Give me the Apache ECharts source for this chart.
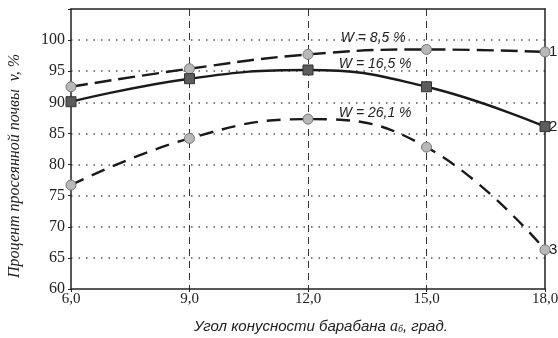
<!DOCTYPE html>
<html>
<head>
<meta charset="utf-8">
<script src="https://cdn.jsdelivr.net/npm/echarts@6/dist/echarts.min.js"></script>
<style>
html, body { margin: 0; padding: 0; background: #fff; }
#chart { width: 558px; height: 338px; }
</style>
</head>
<body>
<div id="chart"></div>
<script>
// угол конусности барабана, град.
const angles = [6, 9, 12, 15, 18];
// процент просеянной почвы при разной влажности
const w85 = [92.5, 95.4, 97.7, 98.5, 98.1];
const w165 = [90.1, 93.8, 95.2, 92.5, 86.1];
const w261 = [76.7, 84.2, 87.3, 82.8, 66.3];
const seriesNames = ['W = 8,5 %', 'W = 16,5 %', 'W = 26,1 %'];
const endNames = ['1', '2', '3'];
// где стоят подписи W (в единицах осей)
const nameSpots = [[13.65, 100.3], [13.7, 96.1], [13.7, 88.3]];

const lineColor = '#1a1a1a';

function pairs(vals) {
	return angles.map((a, i) => [a, vals[i]]);
}

function makeSeries(idx, vals, symbol, fill, dash) {
	return {
		name: seriesNames[idx],
		type: 'line',
		data: pairs(vals),
		smooth: 0.45,
		symbol: symbol,
		symbolSize: 10,
		showAllSymbol: true,
		lineStyle: { color: lineColor, width: 2.4, type: dash },
		itemStyle: { color: fill, borderColor: symbol === 'rect' ? '#333' : '#777', borderWidth: 1 },
		endLabel: {
			show: true,
			formatter: endNames[idx],
			distance: 4,
			color: '#222',
			fontFamily: 'Liberation Sans',
			fontSize: 15
		},
		markPoint: {
			symbol: 'circle',
			symbolSize: 0,
			silent: true,
			label: {
				show: true,
				position: 'inside',
				formatter: seriesNames[idx],
				color: '#222',
				fontFamily: 'Liberation Sans',
				fontStyle: 'italic',
				fontSize: 14
			},
			data: [{ coord: nameSpots[idx] }]
		},
		z: 3
	};
}

const chart = echarts.init(document.getElementById('chart'));
chart.setOption({
	animation: false,
	grid: { left: 71, right: 13, top: 9, bottom: 49, outerBoundsMode: 'none', containLabel: false },
	xAxis: [{
		type: 'value',
		min: 6,
		max: 18,
		interval: 3,
		axisLine: { show: true, lineStyle: { color: '#222', width: 1.5 } },
		axisTick: { show: true, length: 3, lineStyle: { color: '#222' } },
		axisLabel: {
			color: '#222',
			fontFamily: 'Liberation Serif',
			fontSize: 15,
			margin: 3,
			formatter: (v) => v.toFixed(1).replace('.', ',')
		},
		splitLine: {
			show: true,
			showMinLine: false,
			showMaxLine: false,
			lineStyle: { color: '#333', type: [7, 5], width: 1 }
		}
	}, {
		type: 'value',
		position: 'top',
		min: 6,
		max: 18,
		interval: 3,
		axisLine: { show: true, lineStyle: { color: '#222', width: 1.5 } },
		axisTick: { show: false },
		axisLabel: { show: false },
		splitLine: { show: false }
	}],
	yAxis: [{
		type: 'value',
		min: 60,
		max: 105,
		interval: 5,
		axisLine: { show: true, lineStyle: { color: '#222', width: 1.5 } },
		axisTick: { show: true, length: 3, lineStyle: { color: '#222' } },
		axisLabel: {
			color: '#222',
			fontFamily: 'Liberation Serif',
			fontSize: 16,
			margin: 6,
			formatter: (v) => (v > 100 ? '' : String(v))
		},
		splitLine: {
			show: true,
			showMinLine: false,
			showMaxLine: false,
			lineStyle: { color: '#555', type: [1.5, 6], width: 1.5 }
		}
	}, {
		type: 'value',
		position: 'right',
		min: 60,
		max: 105,
		interval: 5,
		axisLine: { show: true, lineStyle: { color: '#222', width: 1.5 } },
		axisTick: { show: false },
		axisLabel: { show: false },
		splitLine: { show: false }
	}],
	series: [
		makeSeries(0, w85, 'circle', '#b8b8b8', [17, 7]),
		makeSeries(1, w165, 'rect', '#5c5c5c', 'solid'),
		makeSeries(2, w261, 'circle', '#b8b8b8', [14, 9])
	],
	graphic: [{
		type: 'text',
		x: 15,
		y: 166,
		rotation: Math.PI / 2,
		style: {
			text: 'Процент просеянной почвы  v, %',
			fill: '#222',
			font: 'italic 16px "Liberation Serif"',
			align: 'center',
			verticalAlign: 'middle'
		}
	}, {
		type: 'text',
		x: 321,
		y: 327,
		style: {
			text: '{t|Угол конусности барабана }{a|a}{s|б}{t|, град.}',
			align: 'center',
			verticalAlign: 'middle',
			rich: {
				t: { fill: '#222', font: 'italic 15px "Liberation Sans"' },
				a: { fill: '#222', font: 'italic 16px "Liberation Serif"' },
				s: { fill: '#222', font: 'italic 10px "Liberation Serif"', padding: [5, 0, 0, 0] }
			}
		}
	}]
});
</script>
</body>
</html>
